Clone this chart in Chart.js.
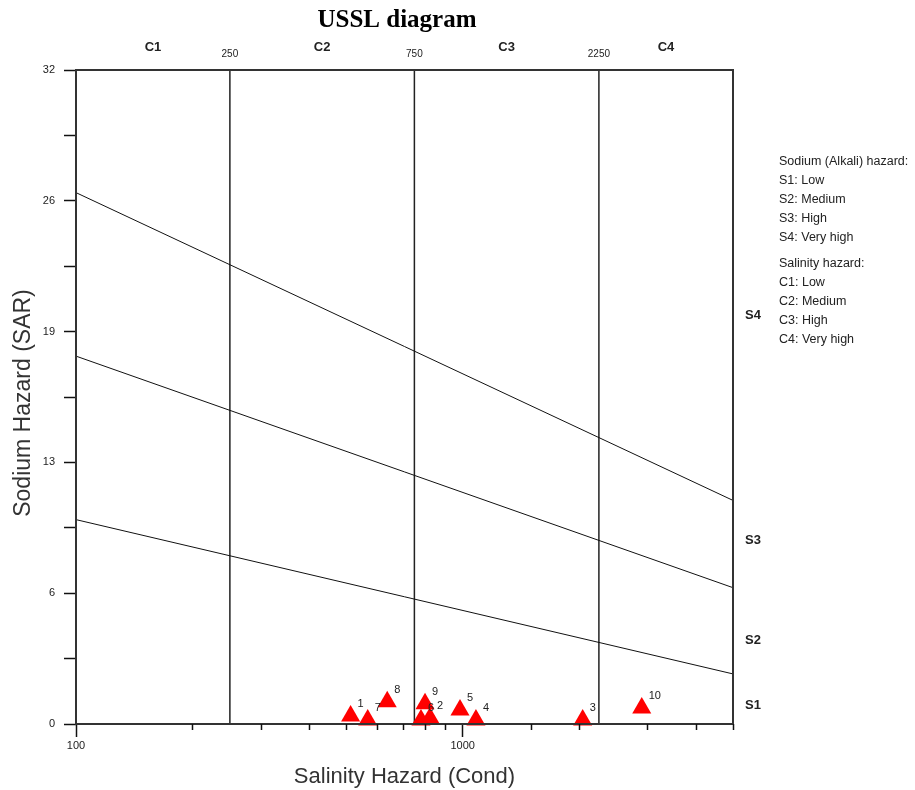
<!DOCTYPE html>
<html>
<head>
<meta charset="utf-8">
<title>USSL diagram</title>
<script src="https://cdn.jsdelivr.net/npm/chart.js@4.4.1/dist/chart.umd.min.js"></script>
<style>
  html, body { margin: 0; padding: 0; background: #fff; }
  #wrap { width: 915px; height: 790px; }
</style>
</head>
<body>
<div id="wrap"><canvas id="ussl" width="915" height="790"></canvas></div>
<script>
// samples (conductivity, SAR)
const sampleLabels = ['1', '2', '3', '4', '5', '6', '7', '8', '9', '10'];
const sampleCond = [513, 823, 2043, 1082, 984, 780, 568, 638, 799, 2904];
const sampleSar = [0.39, 0.29, 0.2, 0.2, 0.68, 0.2, 0.2, 1.09, 0.99, 0.78];

// classification lines, end points at cond = 100 and 5000
const condEnds = [100, 5000];
const lineS1S2 = [10.0, 2.45];
const lineS2S3 = [18.0, 6.67];
const lineS3S4 = [26.0, 10.94];

// salinity class limits
const condLimits = [250, 750, 2250];
const salinityClasses = ['C1', 'C2', 'C3', 'C4'];
const sodiumClasses = ['S1', 'S2', 'S3', 'S4'];
const sodiumLabelSar = [0.93, 4.1, 9.0, 20.0];

const legendLines = [
    'Sodium (Alkali) hazard:', 'S1: Low', 'S2: Medium', 'S3: High', 'S4: Very high',
    null,
    'Salinity hazard:', 'C1: Low', 'C2: Medium', 'C3: High', 'C4: Very high'
];

const FONT = 'Liberation Sans, Arial, sans-serif';

function endPoints(ys) {
    return condEnds.map((c, i) => ({ x: c, y: ys[i] }));
}

const datasets = [{
    label: 'samples',
    data: sampleCond.map((c, i) => ({ x: c, y: sampleSar[i] })),
    showLine: false,
    pointStyle: 'triangle',
    pointRadius: 11,
    pointBackgroundColor: '#ff0000',
    pointBorderColor: '#ff0000',
    pointBorderWidth: 0,
    order: 0,
    clip: false
}];

[lineS1S2, lineS2S3, lineS3S4].forEach(ys => {
    datasets.push({
        data: endPoints(ys),
        showLine: true,
        borderColor: '#111',
        borderWidth: 1,
        pointRadius: 0,
        order: 1
    });
});

condLimits.forEach(c => {
    datasets.push({
        data: [{ x: c, y: 0 }, { x: c, y: 32 }],
        showLine: true,
        borderColor: '#222',
        borderWidth: 1.5,
        pointRadius: 0,
        order: 1
    });
});

const isMajor = v => Math.abs(Math.log10(v) - Math.round(Math.log10(v))) < 1e-9;

const decorations = {
    id: 'decorations',
    afterDatasetsDraw(chart) {
        const { ctx, chartArea: a, scales: { x, y } } = chart;
        ctx.save();

        // frame
        ctx.strokeStyle = '#333';
        ctx.lineWidth = 2;
        ctx.strokeRect(a.left, a.top, a.right - a.left, a.bottom - a.top);

        // short minor ticks on x
        ctx.strokeStyle = '#111';
        ctx.lineWidth = 1.5;
        x.ticks.forEach(t => {
            if (isMajor(t.value)) return;
            const px = Math.round(x.getPixelForValue(t.value)) + 0.5;
            ctx.beginPath();
            ctx.moveTo(px, a.bottom);
            ctx.lineTo(px, a.bottom + 6);
            ctx.stroke();
        });

        // sample numbers
        const meta = chart.getDatasetMeta(0);
        ctx.fillStyle = '#222';
        ctx.font = '11px ' + FONT;
        ctx.textAlign = 'left';
        ctx.textBaseline = 'middle';
        meta.data.forEach((p, i) => {
            ctx.fillText(sampleLabels[i], p.x + 7, p.y - 12);
        });

        // title
        ctx.fillStyle = '#000';
        ctx.font = 'bold 25px Liberation Serif, Times New Roman, serif';
        ctx.textAlign = 'center';
        ctx.fillText('USSL diagram', 397, 21);

        // salinity classes on top
        const bounds = [x.min].concat(condLimits, [x.max]).map(v => x.getPixelForValue(v));
        ctx.fillStyle = '#222';
        ctx.font = 'bold 13px ' + FONT;
        salinityClasses.forEach((c, i) => {
            ctx.fillText(c, (bounds[i] + bounds[i + 1]) / 2, 47);
        });
        ctx.font = '10px ' + FONT;
        condLimits.forEach(c => {
            ctx.fillText(String(c), x.getPixelForValue(c), 54);
        });

        // sodium classes on right
        ctx.font = 'bold 13px ' + FONT;
        ctx.textAlign = 'left';
        sodiumClasses.forEach((s, i) => {
            ctx.fillText(s, a.right + 12, y.getPixelForValue(sodiumLabelSar[i]));
        });

        // legend text
        ctx.font = '12.5px ' + FONT;
        let ly = 162;
        legendLines.forEach(t => {
            if (t === null) { ly += 7; return; }
            ctx.fillText(t, 779, ly);
            ly += 19;
        });

        // axis titles
        ctx.fillStyle = '#333';
        ctx.font = '22px ' + FONT;
        ctx.textAlign = 'center';
        ctx.fillText('Salinity Hazard (Cond)', (a.left + a.right) / 2, 777);
        ctx.font = '23px ' + FONT;
        ctx.save();
        ctx.translate(24, (a.top + a.bottom) / 2 + 6);
        ctx.rotate(-Math.PI / 2);
        ctx.fillText('Sodium Hazard (SAR)', 0, 0);
        ctx.restore();

        ctx.restore();
    }
};

new Chart(document.getElementById('ussl').getContext('2d'), {
    type: 'scatter',
    data: { datasets: datasets },
    options: {
        responsive: false,
        animation: false,
        layout: { padding: { left: 0, top: 70, right: 182, bottom: 0 } },
        plugins: {
            legend: { display: false },
            tooltip: { enabled: false }
        },
        scales: {
            x: {
                type: 'logarithmic',
                min: 100,
                max: 5000,
                afterFit: s => { s.height = 66; },
                border: { display: false },
                grid: {
                    drawOnChartArea: false,
                    tickLength: 13,
                    tickWidth: 1.5,
                    tickColor: c => (c.tick && isMajor(c.tick.value)) ? '#111' : 'rgba(0,0,0,0)'
                },
                ticks: {
                    autoSkip: false,
                    maxRotation: 0,
                    padding: 2,
                    color: '#222',
                    font: { family: FONT, size: 11 },
                    callback: v => isMajor(v) ? String(v) : ''
                }
            },
            y: {
                min: 0,
                max: 32,
                afterFit: s => { s.width = 76; },
                border: { display: false },
                grid: {
                    drawOnChartArea: false,
                    tickLength: 12,
                    tickWidth: 1.5,
                    tickColor: '#111'
                },
                ticks: {
                    stepSize: 3.2,
                    padding: 9,
                    color: '#222',
                    font: { family: FONT, size: 11 },
                    callback: (v, i) => i % 2 === 0 ? String(Math.round(v)) : ''
                }
            }
        }
    },
    plugins: [decorations]
});
</script>
</body>
</html>
